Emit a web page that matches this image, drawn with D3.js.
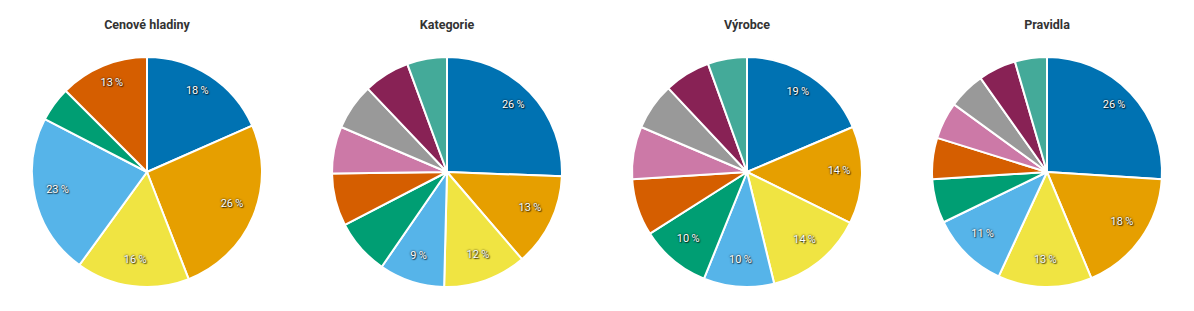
<!DOCTYPE html>
<html>
<head>
<meta charset="utf-8">
<script src="https://cdn.jsdelivr.net/npm/d3@7"></script>
<style>
  body { margin: 0; background: #fff; font-family: Roboto, "Noto Sans", sans-serif; }
  .title { font-size: 12.5px; font-weight: bold; fill: #333; }
  .lbl { font-size: 11px; fill: #fff; text-shadow: 0 0 2px #000, 1px 1px 1px rgba(0,0,0,0.6); }
</style>
</head>
<body>
<div id="chart"></div>
<script>
// Data
var titles = ['Cenové hladiny', 'Kategorie', 'Výrobce', 'Pravidla'];
var cenoveHladiny = [18.4, 25.7, 15.9, 22.6, 4.9, 12.5];
var kategorie = [25.6, 13.1, 11.7, 9.2, 7.8, 7.4, 6.6, 6.5, 6.5, 5.6];
var vyrobce = [18.6, 13.7, 13.9, 9.9, 9.9, 8.0, 7.4, 6.6, 6.5, 5.5];
var pravidla = [26.0, 17.7, 13.2, 10.9, 6.2, 5.8, 5.2, 5.2, 5.3, 4.5];
var colors = ['#0072B2', '#E69F00', '#F0E442', '#56B4E9', '#009E73',
  '#D55E00', '#CC79A7', '#999999', '#882255', '#44AA99'];

var series = [cenoveHladiny, kategorie, vyrobce, pravidla];

var chart_width = 1194;
var chart_height = 311;
var radius = 115;

var svg = d3.select('#chart')
  .append('svg')
  .attr('width', chart_width)
  .attr('height', chart_height);

// Pie centres
var xScale = d3.scalePoint()
  .domain(d3.range(series.length))
  .range([147, 1047]);

var pie = d3.pie().sort(null).value(function (d) { return d; });
var arc = d3.arc().innerRadius(0).outerRadius(radius);
var labelArc = d3.arc().innerRadius(radius * 0.8).outerRadius(radius * 0.8);

series.forEach(function (values, k) {
  var g = svg.append('g')
    .attr('transform', 'translate(' + xScale(k) + ',172)');

  svg.append('text')
    .attr('class', 'title')
    .attr('x', xScale(k))
    .attr('y', 29)
    .attr('text-anchor', 'middle')
    .text(titles[k]);

  var arcs = pie(values);

  g.selectAll('path')
    .data(arcs)
    .enter()
    .append('path')
    .attr('d', arc)
    .attr('fill', function (d, i) { return colors[i]; })
    .attr('stroke', '#fff')
    .attr('stroke-width', 2)
    .attr('stroke-linejoin', 'round');

  // labels sit a bit above the centroid, like the original
  g.selectAll('text')
    .data(arcs.filter(function (d) { return d.data >= 9; }))
    .enter()
    .append('text')
    .attr('class', 'lbl')
    .attr('transform', function (d) {
      var c = labelArc.centroid(d);
      return 'translate(' + c[0] + ',' + (c[1] - 4.5) + ')';
    })
    .attr('text-anchor', 'middle')
    .attr('dy', '0.35em')
    .text(function (d) { return Math.round(d.data) + '\u2009%'; });
});
</script>
</body>
</html>
